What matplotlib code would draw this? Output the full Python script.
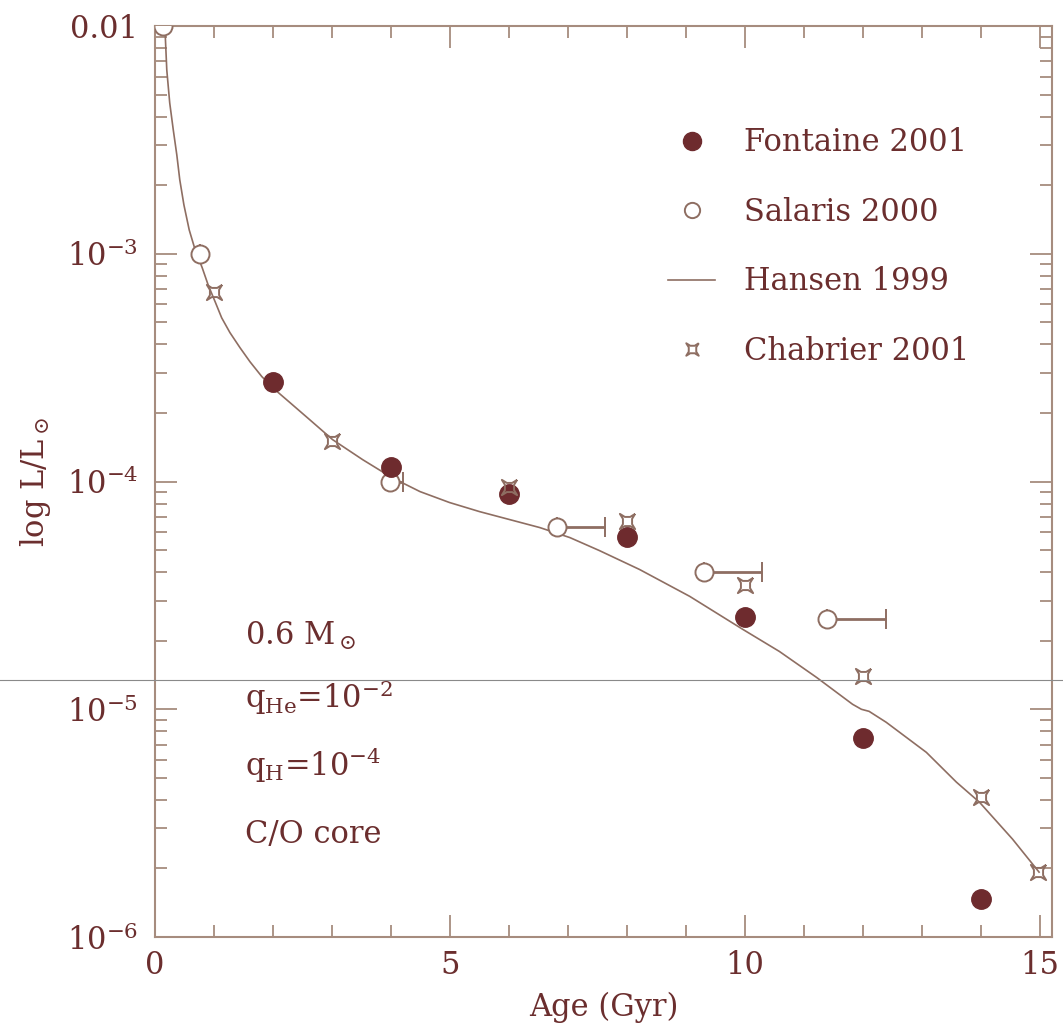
import numpy as np
import matplotlib
matplotlib.use("Agg")
import matplotlib.pyplot as plt
from matplotlib.path import Path
from matplotlib.lines import Line2D

plt.rcParams['font.family'] = ['DejaVu Serif']
plt.rcParams['mathtext.fontset'] = 'dejavuserif'

# --- data ---
fontaine_age = [2.0, 4.0, 6.0, 8.0, 10.0, 12.0, 14.0]
fontaine_L = [2.75e-4, 1.16e-4, 8.8e-5, 5.7e-5, 2.53e-5, 7.5e-6, 1.47e-6]

salaris_age = [0.13, 0.76, 3.98, 6.82, 9.31, 11.38]
salaris_L = [1.0e-2, 1.0e-3, 1.0e-4, 6.3e-5, 4.0e-5, 2.5e-5]
salaris_err = [0.0, 0.0, 0.22, 0.8, 0.98, 1.0]

chabrier_age = [1.0, 3.0, 6.0, 8.0, 10.0, 12.0, 14.0, 14.97]
chabrier_L = [6.8e-4, 1.51e-4, 9.5e-5, 6.7e-5, 3.53e-5, 1.40e-5, 4.1e-6, 1.93e-6]

hansen_age = [0.12, 0.17, 0.20, 0.25, 0.31, 0.37, 0.42, 0.49, 0.58, 0.68, 0.80,
              0.90, 1.02, 1.13, 1.27, 1.44, 1.61, 1.81, 2.03, 2.29, 2.62, 3.01,
              3.52, 4.01, 4.49, 4.99, 5.50, 6.01, 6.52, 7.03, 7.53, 8.21, 9.06,
              9.96, 10.58, 11.21, 11.82, 11.97, 12.10, 12.39, 13.07, 13.58,
              13.97, 14.53, 14.98]
hansen_logL = [-2.000, -2.018, -2.193, -2.338, -2.456, -2.566, -2.675, -2.785,
               -2.895, -2.982, -3.061, -3.136, -3.211, -3.281, -3.346, -3.412,
               -3.474, -3.539, -3.596, -3.654, -3.728, -3.816, -3.904, -3.982,
               -4.044, -4.092, -4.132, -4.167, -4.202, -4.246, -4.303, -4.386,
               -4.504, -4.649, -4.746, -4.860, -4.978, -5.000, -5.009, -5.057,
               -5.189, -5.320, -5.408, -5.570, -5.715]

yticks = [1e-6, 1e-5, 1e-4, 1e-3, 1e-2]
ytick_labels = [r'10$^{-6}$', r'10$^{-5}$', r'10$^{-4}$', r'10$^{-3}$', '0.01']
xticks = [0, 5, 10, 15]

txt_col = '#6b2e2e'
axis_col = '#a68c7e'
dot_col = '#6e2b2e'
line_col = '#8e6e62'
fs = 22

# concave square marker used for Chabrier points
star = Path([(1, 1), (0.35, 0.6), (-0.35, 0.6), (-1, 1), (-0.6, 0.35),
             (-0.6, -0.35), (-1, -1), (-0.35, -0.6), (0.35, -0.6), (1, -1),
             (0.6, -0.35), (0.6, 0.35), (1, 1)])

fig = plt.figure(figsize=(10.63, 10.27), dpi=100)
ax = fig.add_axes([0.1458, 0.0876, 0.8439, 0.887])

ax.plot(hansen_age, 10 ** np.array(hansen_logL), color=line_col, lw=1.2,
        label='Hansen 1999', zorder=2)
ax.plot(fontaine_age, fontaine_L, 'o', ms=14, color=dot_col, mec=dot_col,
        label='Fontaine 2001', zorder=4)
ax.errorbar(salaris_age, salaris_L, xerr=[np.zeros(len(salaris_err)), salaris_err],
            fmt='o', ms=13, mfc='white', mec=line_col, mew=1.4, ecolor=line_col,
            elinewidth=2.0, capsize=7, capthick=2.0, zorder=3)
ax.plot(chabrier_age, chabrier_L, ls='none', marker=star, ms=11, mfc='none',
        mec=line_col, mew=1.4, zorder=5, clip_on=False)

ax.set_yscale('log')
ax.set_xlim(0, 15.2)
ax.set_ylim(1e-6, 1e-2)
ax.set_yticks(yticks, ytick_labels)
ax.set_xticks(xticks)
ax.set_xticks(np.arange(0, 16), minor=True)

for s in ax.spines.values():
    s.set_color(axis_col)
    s.set_linewidth(1.5)
ax.tick_params(which='both', direction='in', top=True, right=True,
               colors=axis_col, labelcolor=txt_col, labelsize=fs, width=1.3)
ax.tick_params(which='major', length=16)
ax.tick_params(which='minor', length=8.5)
ax.tick_params(axis='y', which='both', pad=12)
ax.tick_params(axis='x', which='both', pad=9)

ax.set_xlabel('Age (Gyr)', fontsize=fs, color=txt_col, labelpad=8)
ax.set_ylabel(r'log L/L$_\odot$', fontsize=fs, color=txt_col, labelpad=10)

# legend
handles = [
    Line2D([], [], ls='none', marker='o', ms=13, color=dot_col),
    Line2D([], [], ls='none', marker='o', ms=11, mfc='white', mec=line_col, mew=1.4),
    Line2D([], [], color=line_col, lw=1.2),
    Line2D([], [], ls='none', marker=star, ms=9, mfc='none', mec=line_col, mew=1.4),
]
labels = ['Fontaine 2001', 'Salaris 2000', 'Hansen 1999', 'Chabrier 2001']
leg = ax.legend(handles, labels, loc='upper left', bbox_to_anchor=(0.572, 0.889),
                frameon=False, fontsize=fs, handlelength=1.55, handletextpad=0.95,
                labelspacing=1.26, borderpad=0, borderaxespad=0)
for t in leg.get_texts():
    t.set_color(txt_col)

# model parameters
notes = [r'0.6 M$_\odot$', r'q$_{\mathrm{He}}$=10$^{-2}$', r'q$_{\mathrm{H}}$=10$^{-4}$', 'C/O core']
note_y = [636, 697, 765, 834]
for s, py in zip(notes, note_y):
    ax.text(0.100, 1 - (py - 26) / 911, s, transform=ax.transAxes, fontsize=fs,
            color=txt_col, va='center', ha='left')

# horizontal scan line across the page
fig.add_artist(Line2D([0, 1], [1 - 680 / 1027] * 2, transform=fig.transFigure,
                      color='#8a8a8a', lw=0.8))

fig.savefig('out.png', dpi=100)
